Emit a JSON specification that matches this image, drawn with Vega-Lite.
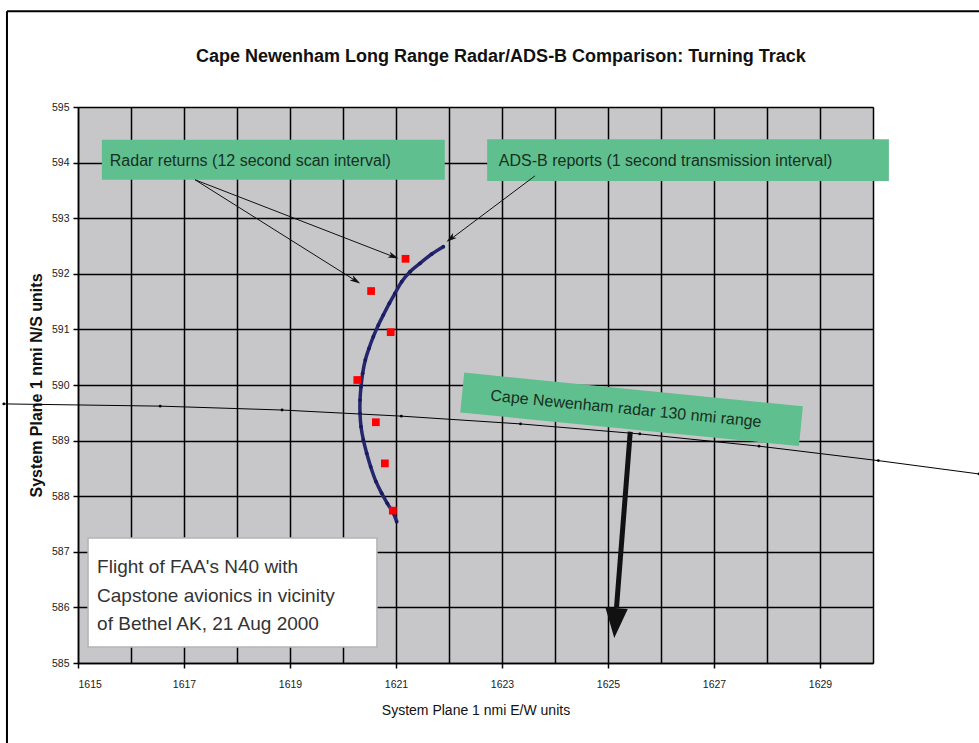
{
  "$schema": "https://vega.github.io/schema/vega-lite/v6.json",
  "width": 795,
  "height": 556,
  "autosize": {"type": "none"},
  "padding": {"left": 78, "top": 107, "right": 106, "bottom": 80},
  "background": "white",
  "config": {
    "font": "Liberation Sans",
    "view": {"fill": "#c7c7ca", "stroke": "#7f7f7f", "strokeWidth": 1}
  },
  "datasets": {
    "boxes": [
      {"x": 1615.45, "x2": 1621.92, "y": 594.41, "y2": 593.69},
      {"x": 1622.72, "x2": 1630.3, "y": 594.42, "y2": 593.67}
    ],
    "rangebox": [
      {"x": 1622.25, "y": 589.865},
      {"x": 1628.64, "y": 589.26}
    ],
    "range": [
      {"x": 1613.6, "y": 589.66},
      {"x": 1616.55, "y": 589.62},
      {"x": 1618.85, "y": 589.55},
      {"x": 1621.1, "y": 589.44},
      {"x": 1623.35, "y": 589.3},
      {"x": 1625.6, "y": 589.12},
      {"x": 1627.85, "y": 588.9},
      {"x": 1630.1, "y": 588.64},
      {"x": 1632.0, "y": 588.4}
    ],
    "adsb": [
      {"t": 1, "x": 1621.013, "y": 587.542},
      {"t": 2, "x": 1620.95, "y": 587.692},
      {"t": 3, "x": 1620.836, "y": 587.872},
      {"t": 4, "x": 1620.73, "y": 588.052},
      {"t": 5, "x": 1620.623, "y": 588.261},
      {"t": 6, "x": 1620.522, "y": 588.531},
      {"t": 7, "x": 1620.447, "y": 588.771},
      {"t": 8, "x": 1620.384, "y": 589.011},
      {"t": 9, "x": 1620.34, "y": 589.251},
      {"t": 10, "x": 1620.321, "y": 589.49},
      {"t": 11, "x": 1620.321, "y": 589.73},
      {"t": 12, "x": 1620.34, "y": 589.97},
      {"t": 13, "x": 1620.371, "y": 590.21},
      {"t": 14, "x": 1620.421, "y": 590.45},
      {"t": 15, "x": 1620.491, "y": 590.66},
      {"t": 16, "x": 1620.572, "y": 590.869},
      {"t": 17, "x": 1620.667, "y": 591.079},
      {"t": 18, "x": 1620.761, "y": 591.259},
      {"t": 19, "x": 1620.874, "y": 591.469},
      {"t": 20, "x": 1620.981, "y": 591.649},
      {"t": 21, "x": 1621.107, "y": 591.858},
      {"t": 22, "x": 1621.264, "y": 592.038},
      {"t": 23, "x": 1621.453, "y": 592.188},
      {"t": 24, "x": 1621.673, "y": 592.356},
      {"t": 25, "x": 1621.893, "y": 592.488}
    ],
    "radar": [
      {"x": 1621.18, "y": 592.27},
      {"x": 1620.53, "y": 591.69},
      {"x": 1620.9, "y": 590.95},
      {"x": 1620.27, "y": 590.09},
      {"x": 1620.62, "y": 589.33},
      {"x": 1620.79, "y": 588.59},
      {"x": 1620.94, "y": 587.74}
    ],
    "arrows": [
      {"x": 1617.21, "y": 593.69, "x2": 1621.0, "y2": 592.29},
      {"x": 1617.21, "y": 593.69, "x2": 1620.28, "y2": 591.85},
      {"x": 1623.62, "y": 593.76, "x2": 1622.0, "y2": 592.6}
    ],
    "labels": [
      {"x": 1615.6, "y": 594.03, "label": "Radar returns (12 second scan interval)"},
      {"x": 1622.94, "y": 594.03, "label": "ADS-B reports (1 second transmission interval)"}
    ],
    "note": [
      {"x": 1615.36, "y": 586.73, "label": "Flight of FAA's N40 with"},
      {"x": 1615.36, "y": 586.21, "label": "Capstone avionics in vicinity"},
      {"x": 1615.36, "y": 585.7, "label": "of Bethel AK, 21 Aug 2000"}
    ]
  },
  "layer": [
    {
      "data": {"name": "boxes"},
      "mark": {"type": "rect", "fill": "#5fbf8e", "clip": false},
      "encoding": {
        "x": {
          "field": "x", "type": "quantitative",
          "scale": {"domain": [1615, 1630], "nice": false, "zero": false},
          "axis": {
            "title": "System Plane 1 nmi E/W units",
            "titleFontSize": 14, "titleFontWeight": "normal", "titleColor": "#111111", "titlePadding": 14,
            "values": [1615, 1616, 1617, 1618, 1619, 1620, 1621, 1622, 1623, 1624, 1625, 1626, 1627, 1628, 1629, 1630],
            "format": "d",
            "labelExpr": "datum.value % 2 == 1 ? datum.label : ''",
            "labelFontSize": 10.5, "labelColor": "#222222", "labelPadding": 11,
            "grid": true, "gridColor": "#000000", "gridWidth": 1.5, "gridOpacity": 1,
            "domainColor": "#000000", "domainWidth": 1.5,
            "tickColor": "#000000", "tickSize": 5, "tickWidth": 1.5,
            "tickOpacity": {"condition": {"test": "datum.value % 2 == 1", "value": 1}, "value": 0}
          }
        },
        "x2": {"field": "x2"},
        "y": {
          "field": "y", "type": "quantitative",
          "scale": {"domain": [585, 595], "nice": false, "zero": false},
          "axis": {
            "title": "System Plane 1 nmi N/S units",
            "titleFontSize": 16, "titleFontWeight": "bold", "titleColor": "#111111", "titlePadding": 7,
            "values": [585, 586, 587, 588, 589, 590, 591, 592, 593, 594, 595],
            "format": "d",
            "labelFontSize": 10.5, "labelColor": "#222222", "labelPadding": 4,
            "grid": true, "gridColor": "#000000", "gridWidth": 1.5, "gridOpacity": 1,
            "domainColor": "#000000", "domainWidth": 1.5,
            "tickColor": "#000000", "tickSize": 5, "tickWidth": 1.5
          }
        },
        "y2": {"field": "y2"}
      }
    },
    {
      "data": {"name": "rangebox"},
      "mark": {"type": "line", "color": "#5fbf8e", "strokeWidth": 40, "strokeCap": "butt", "clip": false},
      "encoding": {
        "x": {"field": "x", "type": "quantitative"},
        "y": {"field": "y", "type": "quantitative"}
      }
    },
    {
      "data": {"values": [{"x": 1615.19, "x2": 1620.64, "y": 587.25, "y2": 585.29}]},
      "mark": {"type": "rect", "fill": "#ffffff", "stroke": "#b5b5b5", "strokeWidth": 1.5},
      "encoding": {
        "x": {"field": "x", "type": "quantitative"},
        "x2": {"field": "x2"},
        "y": {"field": "y", "type": "quantitative"},
        "y2": {"field": "y2"}
      }
    },
    {
      "data": {"name": "range"},
      "mark": {"type": "line", "color": "#000000", "strokeWidth": 1, "clip": false, "point": {"filled": true, "size": 8, "color": "#000000"}},
      "encoding": {
        "x": {"field": "x", "type": "quantitative"},
        "y": {"field": "y", "type": "quantitative"}
      }
    },
    {
      "data": {"name": "adsb"},
      "mark": {"type": "line", "color": "#26266f", "strokeWidth": 3.5, "interpolate": "cardinal"},
      "encoding": {
        "x": {"field": "x", "type": "quantitative"},
        "y": {"field": "y", "type": "quantitative"},
        "order": {"field": "t", "type": "quantitative"}
      }
    },
    {
      "data": {"name": "adsb"},
      "mark": {"type": "point", "filled": true, "color": "#1a1a5c", "size": 14, "opacity": 1},
      "encoding": {
        "x": {"field": "x", "type": "quantitative"},
        "y": {"field": "y", "type": "quantitative"}
      }
    },
    {
      "data": {"name": "radar"},
      "mark": {"type": "point", "shape": "square", "filled": true, "color": "#ff0000", "size": 60, "opacity": 1},
      "encoding": {
        "x": {"field": "x", "type": "quantitative"},
        "y": {"field": "y", "type": "quantitative"}
      }
    },
    {
      "data": {"name": "arrows"},
      "mark": {"type": "rule", "color": "#111111", "strokeWidth": 1},
      "encoding": {
        "x": {"field": "x", "type": "quantitative"},
        "y": {"field": "y", "type": "quantitative"},
        "x2": {"field": "x2"},
        "y2": {"field": "y2"}
      }
    },
    {
      "data": {"values": [{"x": 1620.955, "y": 592.311}]},
      "mark": {"type": "point", "shape": "M1,0L-1,-0.6L-0.5,0L-1,0.6Z", "filled": true, "color": "#111111", "size": 110, "angle": 21, "opacity": 1},
      "encoding": {
        "x": {"field": "x", "type": "quantitative"},
        "y": {"field": "y", "type": "quantitative"}
      }
    },
    {
      "data": {"values": [{"x": 1620.241, "y": 591.877}]},
      "mark": {"type": "point", "shape": "M1,0L-1,-0.6L-0.5,0L-1,0.6Z", "filled": true, "color": "#111111", "size": 110, "angle": 32, "opacity": 1},
      "encoding": {
        "x": {"field": "x", "type": "quantitative"},
        "y": {"field": "y", "type": "quantitative"}
      }
    },
    {
      "data": {"values": [{"x": 1622.032, "y": 592.631}]},
      "mark": {"type": "point", "shape": "M1,0L-1,-0.6L-0.5,0L-1,0.6Z", "filled": true, "color": "#111111", "size": 110, "angle": 143, "opacity": 1},
      "encoding": {
        "x": {"field": "x", "type": "quantitative"},
        "y": {"field": "y", "type": "quantitative"}
      }
    },
    {
      "data": {"values": [{"x": 1625.42, "y": 589.16, "x2": 1625.16, "y2": 585.99}]},
      "mark": {"type": "rule", "color": "#111111", "strokeWidth": 5},
      "encoding": {
        "x": {"field": "x", "type": "quantitative"},
        "y": {"field": "y", "type": "quantitative"},
        "x2": {"field": "x2"},
        "y2": {"field": "y2"}
      }
    },
    {
      "data": {"values": [{"x": 1625.14, "y": 585.72}]},
      "mark": {"type": "point", "shape": "M-0.75,-1L0.75,-1L0,1Z", "filled": true, "color": "#111111", "size": 900, "angle": 4.4, "opacity": 1},
      "encoding": {
        "x": {"field": "x", "type": "quantitative"},
        "y": {"field": "y", "type": "quantitative"}
      }
    },
    {
      "data": {"name": "labels"},
      "mark": {"type": "text", "align": "left", "baseline": "middle", "fontSize": 16, "color": "#17301f", "clip": false},
      "encoding": {
        "x": {"field": "x", "type": "quantitative"},
        "y": {"field": "y", "type": "quantitative"},
        "text": {"field": "label"}
      }
    },
    {
      "data": {"values": [{"x": 1625.34, "y": 589.57, "label": "Cape Newenham radar 130 nmi range"}]},
      "mark": {"type": "text", "align": "center", "baseline": "middle", "fontSize": 16, "color": "#17301f", "angle": 5.6},
      "encoding": {
        "x": {"field": "x", "type": "quantitative"},
        "y": {"field": "y", "type": "quantitative"},
        "text": {"field": "label"}
      }
    },
    {
      "data": {"name": "note"},
      "mark": {"type": "text", "align": "left", "baseline": "middle", "fontSize": 19, "color": "#333333"},
      "encoding": {
        "x": {"field": "x", "type": "quantitative"},
        "y": {"field": "y", "type": "quantitative"},
        "text": {"field": "label"}
      }
    },
    {
      "data": {"values": [{"x": 1622.98, "y": 595.9, "label": "Cape Newenham Long Range Radar/ADS-B Comparison: Turning Track"}]},
      "mark": {"type": "text", "align": "center", "baseline": "middle", "fontSize": 18, "fontWeight": "bold", "color": "#111111", "clip": false},
      "encoding": {
        "x": {"field": "x", "type": "quantitative"},
        "y": {"field": "y", "type": "quantitative"},
        "text": {"field": "label"}
      }
    },
    {
      "data": {"values": [{"x": 1613.66, "y": 596.72, "y2": 583.0}]},
      "mark": {"type": "rule", "color": "#000000", "strokeWidth": 2, "clip": false},
      "encoding": {
        "x": {"field": "x", "type": "quantitative"},
        "y": {"field": "y", "type": "quantitative"},
        "y2": {"field": "y2"}
      }
    },
    {
      "data": {"values": [{"x": 1613.66, "x2": 1633.0, "y": 596.72}]},
      "mark": {"type": "rule", "color": "#000000", "strokeWidth": 2, "clip": false},
      "encoding": {
        "x": {"field": "x", "type": "quantitative"},
        "x2": {"field": "x2"},
        "y": {"field": "y", "type": "quantitative"}
      }
    }
  ]
}
